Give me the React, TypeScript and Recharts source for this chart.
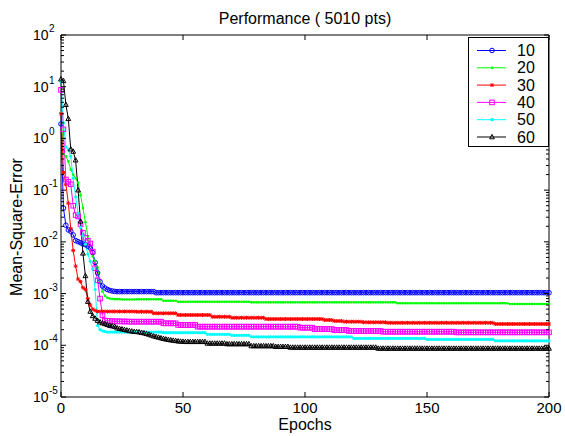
import React from "react";
import { LineChart, Line, XAxis, YAxis, Legend } from "recharts";

const FONT = '"Liberation Sans", Arial, Helvetica, sans-serif';

// plot box in page pixels (used for inward tick marks)
const PLOT = { left: 61, right: 549, top: 35, bottom: 397 };

const epochs = [
  0, 1, 2, 3, 4, 5, 6, 7, 8, 9, 10,
  11, 12, 13, 14, 15, 16, 17, 18, 19, 20,
  21, 22, 23, 24, 25, 26, 27, 28, 29, 30,
  31, 32, 33, 34, 35, 36, 37, 38, 39, 40,
  41, 42, 43, 44, 45, 46, 47, 48, 49, 50,
  51, 52, 53, 54, 55, 56, 57, 58, 59, 60,
  61, 62, 63, 64, 65, 66, 67, 68, 69, 70,
  71, 72, 73, 74, 75, 76, 77, 78, 79, 80,
  81, 82, 83, 84, 85, 86, 87, 88, 89, 90,
  91, 92, 93, 94, 95, 96, 97, 98, 99, 100,
  101, 102, 103, 104, 105, 106, 107, 108, 109, 110,
  111, 112, 113, 114, 115, 116, 117, 118, 119, 120,
  121, 122, 123, 124, 125, 126, 127, 128, 129, 130,
  131, 132, 133, 134, 135, 136, 137, 138, 139, 140,
  141, 142, 143, 144, 145, 146, 147, 148, 149, 150,
  151, 152, 153, 154, 155, 156, 157, 158, 159, 160,
  161, 162, 163, 164, 165, 166, 167, 168, 169, 170,
  171, 172, 173, 174, 175, 176, 177, 178, 179, 180,
  181, 182, 183, 184, 185, 186, 187, 188, 189, 190,
  191, 192, 193, 194, 195, 196, 197, 198, 199, 200,
];

const mse10 = [
  1.9, 0.045, 0.021, 0.017, 0.016, 0.0136, 0.0106, 0.0101, 0.0096, 0.0091, 0.0088,
  0.0083, 0.0076, 0.0062, 0.004, 0.0025, 0.0017, 0.0014, 0.00128, 0.0012, 0.00115,
  0.00112, 0.0011, 1.09e-3, 1.09e-3, 1.09e-3, 1.09e-3, 1.09e-3, 1.09e-3, 1.09e-3, 1.09e-3,
  1.09e-3, 1.09e-3, 1.09e-3, 1.09e-3, 1.09e-3, 1.09e-3, 1.09e-3, 1.09e-3, 1.04e-3, 1.04e-3,
  1.04e-3, 1.04e-3, 1.04e-3, 1.04e-3, 1.04e-3, 1.04e-3, 1.04e-3, 1.04e-3, 1.04e-3, 1.04e-3,
  1.04e-3, 1.04e-3, 1.04e-3, 1.04e-3, 1.04e-3, 1.04e-3, 1.04e-3, 1.04e-3, 1.04e-3, 1.04e-3,
  1.04e-3, 1.04e-3, 1.04e-3, 1.04e-3, 1.04e-3, 1.04e-3, 1.04e-3, 1.04e-3, 1.04e-3, 1.04e-3,
  1.04e-3, 1.04e-3, 1.04e-3, 1.04e-3, 1.04e-3, 1.04e-3, 1.04e-3, 1.04e-3, 1.04e-3, 1.04e-3,
  1.04e-3, 1.04e-3, 1.04e-3, 1.04e-3, 1.04e-3, 1.04e-3, 1.04e-3, 1.04e-3, 1.04e-3, 1.04e-3,
  1.04e-3, 1.04e-3, 1.04e-3, 1.04e-3, 1.04e-3, 1.04e-3, 1.04e-3, 1.04e-3, 1.04e-3, 1.04e-3,
  1.04e-3, 1.04e-3, 1.04e-3, 1.04e-3, 1.04e-3, 1.04e-3, 1.04e-3, 1.04e-3, 1.04e-3, 1.04e-3,
  1.04e-3, 1.04e-3, 1.04e-3, 1.04e-3, 1.04e-3, 1.04e-3, 1.04e-3, 1.04e-3, 1.04e-3, 1.04e-3,
  1.04e-3, 1.04e-3, 1.04e-3, 1.04e-3, 1.04e-3, 1.04e-3, 1.04e-3, 1.04e-3, 1.04e-3, 1.04e-3,
  1.04e-3, 1.04e-3, 1.04e-3, 1.04e-3, 1.04e-3, 1.04e-3, 1.04e-3, 1.04e-3, 1.04e-3, 1.04e-3,
  1.04e-3, 1.04e-3, 1.04e-3, 1.04e-3, 1.04e-3, 1.04e-3, 1.04e-3, 1.04e-3, 1.04e-3, 1.04e-3,
  1.04e-3, 1.04e-3, 1.04e-3, 1.04e-3, 1.04e-3, 1.04e-3, 1.04e-3, 1.04e-3, 1.04e-3, 1.04e-3,
  1.04e-3, 1.04e-3, 1.04e-3, 1.04e-3, 1.04e-3, 1.04e-3, 1.04e-3, 1.04e-3, 1.04e-3, 1.04e-3,
  1.04e-3, 1.04e-3, 1.04e-3, 1.04e-3, 1.04e-3, 1.04e-3, 1.04e-3, 1.04e-3, 1.04e-3, 1.04e-3,
  1.04e-3, 1.04e-3, 1.04e-3, 1.04e-3, 1.04e-3, 1.04e-3, 1.04e-3, 1.04e-3, 1.04e-3, 1.04e-3,
  1.04e-3, 1.04e-3, 1.04e-3, 1.04e-3, 1.04e-3, 1.04e-3, 1.04e-3, 1.04e-3, 1.04e-3, 1.04e-3,
];

const mse20 = [
  3.1, 0.5, 0.45, 0.36, 0.25, 0.2, 0.17, 0.14, 0.08, 0.045, 0.024,
  0.013, 0.0065, 0.0052, 0.0043, 0.0032, 0.0017, 0.0011, 0.0009, 0.00083, 0.0008,
  7.9e-4, 7.8e-4, 7.8e-4, 7.8e-4, 7.7e-4, 7.7e-4, 7.7e-4, 7.7e-4, 7.7e-4, 7.7e-4,
  7.74e-4, 7.74e-4, 7.74e-4, 7.74e-4, 7.74e-4, 7.74e-4, 7.74e-4, 7.74e-4, 7.74e-4, 7.74e-4,
  7.74e-4, 7.28e-4, 7.28e-4, 7.28e-4, 7.28e-4, 7.28e-4, 7.28e-4, 6.96e-4, 6.96e-4, 6.96e-4,
  6.96e-4, 6.96e-4, 6.96e-4, 6.96e-4, 6.96e-4, 6.96e-4, 6.96e-4, 6.96e-4, 6.96e-4, 6.96e-4,
  6.96e-4, 6.96e-4, 6.96e-4, 6.96e-4, 6.96e-4, 6.96e-4, 6.96e-4, 6.96e-4, 6.96e-4, 6.96e-4,
  6.96e-4, 6.96e-4, 6.96e-4, 6.96e-4, 6.96e-4, 6.96e-4, 6.96e-4, 6.77e-4, 6.77e-4, 6.77e-4,
  6.77e-4, 6.77e-4, 6.77e-4, 6.77e-4, 6.77e-4, 6.77e-4, 6.77e-4, 6.77e-4, 6.77e-4, 6.77e-4,
  6.77e-4, 6.77e-4, 6.77e-4, 6.77e-4, 6.77e-4, 6.77e-4, 6.77e-4, 6.77e-4, 6.77e-4, 6.77e-4,
  6.77e-4, 6.77e-4, 6.77e-4, 6.77e-4, 6.77e-4, 6.77e-4, 6.77e-4, 6.77e-4, 6.77e-4, 6.77e-4,
  6.77e-4, 6.77e-4, 6.77e-4, 6.77e-4, 6.77e-4, 6.77e-4, 6.77e-4, 6.77e-4, 6.77e-4, 6.77e-4,
  6.77e-4, 6.77e-4, 6.77e-4, 6.77e-4, 6.77e-4, 6.77e-4, 6.77e-4, 6.77e-4, 6.77e-4, 6.77e-4,
  6.77e-4, 6.77e-4, 6.77e-4, 6.77e-4, 6.77e-4, 6.77e-4, 6.77e-4, 6.48e-4, 6.48e-4, 6.48e-4,
  6.48e-4, 6.48e-4, 6.48e-4, 6.48e-4, 6.48e-4, 6.48e-4, 6.48e-4, 6.48e-4, 6.48e-4, 6.48e-4,
  6.48e-4, 6.48e-4, 6.48e-4, 6.48e-4, 6.48e-4, 6.48e-4, 6.48e-4, 6.48e-4, 6.48e-4, 6.48e-4,
  6.48e-4, 6.48e-4, 6.48e-4, 6.48e-4, 6.48e-4, 6.48e-4, 6.48e-4, 6.48e-4, 6.48e-4, 6.48e-4,
  6.48e-4, 6.48e-4, 6.48e-4, 6.48e-4, 6.48e-4, 6.48e-4, 6.48e-4, 6.48e-4, 6.48e-4, 6.48e-4,
  6.48e-4, 6.48e-4, 6.48e-4, 6.3e-4, 6.3e-4, 6.3e-4, 6.3e-4, 6.3e-4, 6.3e-4, 6.3e-4,
  6.3e-4, 6.3e-4, 6.3e-4, 6.3e-4, 6.3e-4, 6.3e-4, 6.3e-4, 6.3e-4, 6.3e-4, 6.3e-4,
];

const mse30 = [
  3.0, 0.22, 0.13, 0.056, 0.018, 0.0068, 0.0034, 0.0019, 0.0017, 0.0013, 0.0012,
  0.0008, 0.0006, 0.0005, 4.7e-4, 4.5e-4, 4.5e-4, 4.5e-4, 4.5e-4, 4.5e-4, 4.5e-4,
  4.5e-4, 4.5e-4, 4.5e-4, 4.5e-4, 4.5e-4, 4.5e-4, 4.5e-4, 4.5e-4, 4.5e-4, 4.5e-4,
  4.46e-4, 4.46e-4, 4.46e-4, 4.46e-4, 4.46e-4, 4.46e-4, 4.46e-4, 4.15e-4, 4.15e-4, 4.15e-4,
  4.15e-4, 4.15e-4, 4.15e-4, 4.15e-4, 4.15e-4, 4.15e-4, 4.15e-4, 3.85e-4, 3.85e-4, 3.85e-4,
  3.85e-4, 3.85e-4, 3.85e-4, 3.85e-4, 3.85e-4, 3.85e-4, 3.85e-4, 3.85e-4, 3.85e-4, 3.85e-4,
  3.85e-4, 3.56e-4, 3.56e-4, 3.56e-4, 3.56e-4, 3.56e-4, 3.56e-4, 3.56e-4, 3.56e-4, 3.41e-4,
  3.41e-4, 3.41e-4, 3.41e-4, 3.41e-4, 3.41e-4, 3.41e-4, 3.41e-4, 3.41e-4, 3.41e-4, 3.41e-4,
  3.41e-4, 3.41e-4, 3.41e-4, 3.22e-4, 3.22e-4, 3.22e-4, 3.22e-4, 3.22e-4, 3.22e-4, 3.22e-4,
  3.22e-4, 3.22e-4, 3.22e-4, 3.22e-4, 3.22e-4, 3.22e-4, 3.22e-4, 3.22e-4, 3.22e-4, 3.22e-4,
  3.22e-4, 3.22e-4, 3.22e-4, 3.22e-4, 3.22e-4, 3.22e-4, 3.22e-4, 3.08e-4, 3.08e-4, 3.08e-4,
  3.08e-4, 2.95e-4, 2.95e-4, 2.95e-4, 2.95e-4, 2.86e-4, 2.86e-4, 2.86e-4, 2.86e-4, 2.86e-4,
  2.86e-4, 2.86e-4, 2.86e-4, 2.78e-4, 2.78e-4, 2.78e-4, 2.78e-4, 2.78e-4, 2.78e-4, 2.78e-4,
  2.78e-4, 2.78e-4, 2.78e-4, 2.72e-4, 2.72e-4, 2.72e-4, 2.72e-4, 2.72e-4, 2.72e-4, 2.72e-4,
  2.72e-4, 2.72e-4, 2.72e-4, 2.72e-4, 2.72e-4, 2.72e-4, 2.72e-4, 2.72e-4, 2.72e-4, 2.72e-4,
  2.72e-4, 2.72e-4, 2.72e-4, 2.72e-4, 2.72e-4, 2.72e-4, 2.72e-4, 2.72e-4, 2.72e-4, 2.72e-4,
  2.72e-4, 2.72e-4, 2.72e-4, 2.72e-4, 2.72e-4, 2.72e-4, 2.72e-4, 2.72e-4, 2.72e-4, 2.72e-4,
  2.72e-4, 2.72e-4, 2.72e-4, 2.72e-4, 2.72e-4, 2.72e-4, 2.72e-4, 2.58e-4, 2.58e-4, 2.58e-4,
  2.58e-4, 2.58e-4, 2.58e-4, 2.58e-4, 2.58e-4, 2.58e-4, 2.58e-4, 2.58e-4, 2.58e-4, 2.58e-4,
  2.58e-4, 2.58e-4, 2.58e-4, 2.58e-4, 2.58e-4, 2.58e-4, 2.58e-4, 2.58e-4, 2.58e-4, 2.58e-4,
];

const mse40 = [
  8.7, 1.5, 0.16, 0.145, 0.13, 0.05, 0.033, 0.031, 0.022, 0.015, 0.012,
  0.0105, 0.0093, 0.0065, 0.0031, 0.0018, 0.0008, 3.8e-4, 3.0e-4, 2.98e-4, 2.95e-4,
  2.93e-4, 2.9e-4, 2.9e-4, 2.9e-4, 2.9e-4, 2.88e-4, 2.88e-4, 2.87e-4, 2.86e-4, 2.86e-4,
  2.86e-4, 2.86e-4, 2.86e-4, 2.86e-4, 2.86e-4, 2.86e-4, 2.86e-4, 2.86e-4, 2.86e-4, 2.86e-4,
  2.86e-4, 2.66e-4, 2.66e-4, 2.66e-4, 2.66e-4, 2.66e-4, 2.66e-4, 2.47e-4, 2.47e-4, 2.47e-4,
  2.47e-4, 2.47e-4, 2.47e-4, 2.47e-4, 2.47e-4, 2.29e-4, 2.29e-4, 2.29e-4, 2.29e-4, 2.29e-4,
  2.29e-4, 2.29e-4, 2.29e-4, 2.29e-4, 2.29e-4, 2.29e-4, 2.29e-4, 2.29e-4, 2.29e-4, 2.29e-4,
  2.29e-4, 2.29e-4, 2.29e-4, 2.29e-4, 2.29e-4, 2.29e-4, 2.29e-4, 2.29e-4, 2.29e-4, 2.29e-4,
  2.29e-4, 2.29e-4, 2.29e-4, 2.29e-4, 2.29e-4, 2.29e-4, 2.29e-4, 2.29e-4, 2.29e-4, 2.29e-4,
  2.29e-4, 2.29e-4, 2.29e-4, 2.29e-4, 2.29e-4, 2.29e-4, 2.29e-4, 2.19e-4, 2.19e-4, 2.19e-4,
  2.19e-4, 2.19e-4, 2.19e-4, 2.06e-4, 2.06e-4, 2.06e-4, 2.06e-4, 2.06e-4, 2.06e-4, 2.06e-4,
  2.06e-4, 1.97e-4, 1.97e-4, 1.97e-4, 1.97e-4, 1.97e-4, 1.97e-4, 1.89e-4, 1.89e-4, 1.89e-4,
  1.89e-4, 1.89e-4, 1.89e-4, 1.89e-4, 1.89e-4, 1.89e-4, 1.89e-4, 1.89e-4, 1.89e-4, 1.89e-4,
  1.89e-4, 1.83e-4, 1.83e-4, 1.83e-4, 1.83e-4, 1.83e-4, 1.83e-4, 1.83e-4, 1.83e-4, 1.83e-4,
  1.83e-4, 1.83e-4, 1.83e-4, 1.83e-4, 1.83e-4, 1.83e-4, 1.83e-4, 1.83e-4, 1.83e-4, 1.83e-4,
  1.83e-4, 1.83e-4, 1.83e-4, 1.83e-4, 1.83e-4, 1.83e-4, 1.83e-4, 1.83e-4, 1.83e-4, 1.83e-4,
  1.83e-4, 1.78e-4, 1.78e-4, 1.78e-4, 1.78e-4, 1.78e-4, 1.78e-4, 1.78e-4, 1.78e-4, 1.78e-4,
  1.78e-4, 1.78e-4, 1.78e-4, 1.78e-4, 1.78e-4, 1.78e-4, 1.78e-4, 1.78e-4, 1.78e-4, 1.78e-4,
  1.78e-4, 1.78e-4, 1.78e-4, 1.78e-4, 1.78e-4, 1.78e-4, 1.78e-4, 1.78e-4, 1.78e-4, 1.78e-4,
  1.78e-4, 1.78e-4, 1.78e-4, 1.78e-4, 1.78e-4, 1.78e-4, 1.78e-4, 1.78e-4, 1.78e-4, 1.78e-4,
];

const mse50 = [
  12.5, 2.0, 0.68, 0.6, 0.45, 0.17, 0.074, 0.036, 0.019, 0.013, 0.009,
  0.0058, 0.0042, 0.003, 0.0012, 2.4e-4, 2.0e-4, 1.9e-4, 1.85e-4, 1.8e-4, 1.8e-4,
  1.8e-4, 1.8e-4, 1.8e-4, 1.8e-4, 1.8e-4, 1.8e-4, 1.8e-4, 1.8e-4, 1.8e-4, 1.8e-4,
  1.8e-4, 1.8e-4, 1.8e-4, 1.8e-4, 1.8e-4, 1.8e-4, 1.8e-4, 1.8e-4, 1.8e-4, 1.8e-4,
  1.8e-4, 1.75e-4, 1.75e-4, 1.75e-4, 1.75e-4, 1.75e-4, 1.75e-4, 1.75e-4, 1.75e-4, 1.75e-4,
  1.75e-4, 1.75e-4, 1.75e-4, 1.75e-4, 1.75e-4, 1.75e-4, 1.75e-4, 1.75e-4, 1.75e-4, 1.63e-4,
  1.63e-4, 1.63e-4, 1.63e-4, 1.63e-4, 1.63e-4, 1.63e-4, 1.63e-4, 1.63e-4, 1.63e-4, 1.56e-4,
  1.56e-4, 1.56e-4, 1.56e-4, 1.56e-4, 1.56e-4, 1.56e-4, 1.56e-4, 1.46e-4, 1.46e-4, 1.46e-4,
  1.46e-4, 1.46e-4, 1.46e-4, 1.46e-4, 1.46e-4, 1.46e-4, 1.46e-4, 1.46e-4, 1.46e-4, 1.46e-4,
  1.46e-4, 1.46e-4, 1.46e-4, 1.46e-4, 1.46e-4, 1.46e-4, 1.46e-4, 1.46e-4, 1.46e-4, 1.46e-4,
  1.46e-4, 1.46e-4, 1.46e-4, 1.46e-4, 1.46e-4, 1.46e-4, 1.46e-4, 1.46e-4, 1.46e-4, 1.46e-4,
  1.46e-4, 1.46e-4, 1.46e-4, 1.46e-4, 1.46e-4, 1.46e-4, 1.46e-4, 1.46e-4, 1.46e-4, 1.36e-4,
  1.36e-4, 1.36e-4, 1.36e-4, 1.36e-4, 1.36e-4, 1.36e-4, 1.36e-4, 1.36e-4, 1.36e-4, 1.36e-4,
  1.36e-4, 1.36e-4, 1.36e-4, 1.36e-4, 1.36e-4, 1.36e-4, 1.36e-4, 1.36e-4, 1.36e-4, 1.36e-4,
  1.36e-4, 1.36e-4, 1.36e-4, 1.36e-4, 1.36e-4, 1.36e-4, 1.36e-4, 1.36e-4, 1.36e-4, 1.3e-4,
  1.3e-4, 1.3e-4, 1.3e-4, 1.3e-4, 1.3e-4, 1.3e-4, 1.3e-4, 1.3e-4, 1.3e-4, 1.3e-4,
  1.3e-4, 1.3e-4, 1.3e-4, 1.3e-4, 1.3e-4, 1.3e-4, 1.3e-4, 1.3e-4, 1.3e-4, 1.3e-4,
  1.3e-4, 1.3e-4, 1.3e-4, 1.3e-4, 1.3e-4, 1.3e-4, 1.3e-4, 1.22e-4, 1.22e-4, 1.22e-4,
  1.22e-4, 1.22e-4, 1.22e-4, 1.22e-4, 1.22e-4, 1.22e-4, 1.22e-4, 1.22e-4, 1.22e-4, 1.22e-4,
  1.22e-4, 1.22e-4, 1.22e-4, 1.22e-4, 1.22e-4, 1.22e-4, 1.22e-4, 1.22e-4, 1.22e-4, 1.22e-4,
];

const mse60 = [
  14, 13, 4.5, 2.4, 0.62, 0.56, 0.38, 0.1, 0.025, 0.006, 0.0022,
  7e-4, 4.5e-4, 3.7e-4, 3.3e-4, 3.0e-4, 2.8e-4, 2.7e-4, 2.6e-4, 2.5e-4, 2.4e-4,
  2.35e-4, 2.3e-4, 2.15e-4, 2.1e-4, 2.05e-4, 2.0e-4, 1.95e-4, 1.9e-4, 1.87e-4, 1.83e-4,
  1.82e-4, 1.8e-4, 1.76e-4, 1.72e-4, 1.67e-4, 1.62e-4, 1.56e-4, 1.5e-4, 1.46e-4, 1.42e-4,
  1.38e-4, 1.34e-4, 1.31e-4, 1.28e-4, 1.26e-4, 1.24e-4, 1.22e-4, 1.2e-4, 1.19e-4, 1.18e-4,
  1.17e-4, 1.17e-4, 1.17e-4, 1.17e-4, 1.17e-4, 1.17e-4, 1.17e-4, 1.17e-4, 1.17e-4, 1.09e-4,
  1.09e-4, 1.09e-4, 1.09e-4, 1.09e-4, 1.09e-4, 1.09e-4, 1.09e-4, 1.06e-4, 1.06e-4, 1.06e-4,
  1.06e-4, 1.06e-4, 1.06e-4, 1.06e-4, 1.06e-4, 1.06e-4, 1.06e-4, 9.7e-5, 9.7e-5, 9.7e-5,
  9.7e-5, 9.7e-5, 9.7e-5, 9.7e-5, 9.7e-5, 9.7e-5, 9.7e-5, 9.4e-5, 9.4e-5, 9.4e-5,
  9.4e-5, 9.4e-5, 9.4e-5, 9.1e-5, 9.1e-5, 9.1e-5, 9.1e-5, 9.1e-5, 9.1e-5, 9.1e-5,
  9.1e-5, 9.1e-5, 9.1e-5, 9.1e-5, 9.1e-5, 9.1e-5, 9.1e-5, 9.1e-5, 9.1e-5, 9.1e-5,
  9.1e-5, 9.1e-5, 9.1e-5, 9.1e-5, 9.1e-5, 9.1e-5, 9.1e-5, 9.1e-5, 9.1e-5, 9.1e-5,
  9.1e-5, 9.1e-5, 9.1e-5, 9.1e-5, 9.1e-5, 9.1e-5, 9.1e-5, 9.1e-5, 9.1e-5, 8.7e-5,
  8.7e-5, 8.7e-5, 8.7e-5, 8.7e-5, 8.7e-5, 8.7e-5, 8.7e-5, 8.7e-5, 8.7e-5, 8.7e-5,
  8.7e-5, 8.7e-5, 8.7e-5, 8.7e-5, 8.7e-5, 8.7e-5, 8.7e-5, 8.7e-5, 8.7e-5, 8.7e-5,
  8.7e-5, 8.7e-5, 8.7e-5, 8.7e-5, 8.7e-5, 8.7e-5, 8.7e-5, 8.7e-5, 8.7e-5, 8.7e-5,
  8.7e-5, 8.7e-5, 8.7e-5, 8.7e-5, 8.7e-5, 8.7e-5, 8.7e-5, 8.7e-5, 8.7e-5, 8.7e-5,
  8.7e-5, 8.7e-5, 8.7e-5, 8.7e-5, 8.7e-5, 8.7e-5, 8.7e-5, 8.7e-5, 8.7e-5, 8.7e-5,
  8.7e-5, 8.7e-5, 8.7e-5, 8.7e-5, 8.7e-5, 8.7e-5, 8.7e-5, 8.7e-5, 8.7e-5, 8.7e-5,
  8.7e-5, 8.7e-5, 8.7e-5, 8.7e-5, 8.7e-5, 8.7e-5, 8.7e-5, 8.7e-5, 8.7e-5, 8.7e-5,
];

const seriesNames = ["10", "20", "30", "40", "50", "60"];
const seriesColors = ["#0000ff", "#00ff00", "#ff0000", "#ff00ff", "#00ffff", "#000000"];
const seriesMarkers = ["o", ".", "*", "s", "..", "^"];
const seriesValues = [mse10, mse20, mse30, mse40, mse50, mse60];

const xTicks = [0, 50, 100, 150, 200];
const yDecades = [1e-5, 1e-4, 1e-3, 1e-2, 1e-1, 1, 10, 100];
const yTicks = yDecades
  .slice(0, -1)
  .flatMap((d) => [1, 2, 3, 4, 5, 6, 7, 8, 9].map((m) => m * d))
  .concat([100]);

const rows = epochs.map((epoch, i) => {
  const row: Record<string, number> = { epoch };
  seriesNames.forEach((n, k) => (row["s" + n] = seriesValues[k][i]));
  return row;
});

function Marker({ kind, color, cx, cy }: any) {
  if (cx == null || cy == null) return null;
  switch (kind) {
    case "o":
      return <circle cx={cx} cy={cy} r={2.3} fill="none" stroke={color} strokeWidth={1} />;
    case ".":
      return <circle cx={cx} cy={cy} r={1.3} fill={color} />;
    case "..":
      return <circle cx={cx} cy={cy} r={1.6} fill={color} />;
    case "*":
      return (
        <g stroke={color} strokeWidth={1}>
          <line x1={cx - 2} x2={cx + 2} y1={cy} y2={cy} />
          <line x1={cx} x2={cx} y1={cy - 2} y2={cy + 2} />
          <line x1={cx - 1.5} x2={cx + 1.5} y1={cy - 1.5} y2={cy + 1.5} />
          <line x1={cx - 1.5} x2={cx + 1.5} y1={cy + 1.5} y2={cy - 1.5} />
        </g>
      );
    case "s":
      return <rect x={cx - 2.3} y={cy - 2.3} width={4.6} height={4.6} fill="none" stroke={color} strokeWidth={1} />;
    case "^":
      return (
        <path
          d={`M${cx},${cy - 2.6}L${cx + 2.4},${cy + 1.8}L${cx - 2.4},${cy + 1.8}Z`}
          fill="none"
          stroke={color}
          strokeWidth={1}
        />
      );
    default:
      return null;
  }
}

const dotFor = (kind: string, color: string) => (p: any) =>
  <Marker key={`${kind}-${color}-${p.index}`} kind={kind} color={color} cx={p.cx} cy={p.cy} />;

function XTick({ x, payload, side }: any) {
  if (side === "top") {
    return <line x1={x} x2={x} y1={PLOT.top} y2={PLOT.top + 5} stroke="#000" />;
  }
  return (
    <g>
      <line x1={x} x2={x} y1={PLOT.bottom} y2={PLOT.bottom - 5} stroke="#000" />
      <text x={x} y={413} textAnchor="middle" fontSize={15} fontFamily={FONT} fill="#000">
        {Math.round(payload.value)}
      </text>
    </g>
  );
}

function YTick({ y, payload, side }: any) {
  const lg = Math.log10(payload.value);
  const exp = Math.round(lg);
  const major = Math.abs(lg - exp) < 1e-6;
  const len = major ? 5 : 3;
  if (side === "right") {
    return <line x1={PLOT.right} x2={PLOT.right - len} y1={y} y2={y} stroke="#000" />;
  }
  return (
    <g>
      <line x1={PLOT.left} x2={PLOT.left + len} y1={y} y2={y} stroke="#000" />
      {major && (
        <text x={33} y={y + 5} fontSize={14} fontFamily={FONT} fill="#000">
          10
          <tspan x={49} dy={-8} fontSize={10}>
            {exp}
          </tspan>
        </text>
      )}
    </g>
  );
}

const TitleLabel = () => (
  <text x={305} y={24} textAnchor="middle" fontSize={16} fontFamily={FONT} fill="#000">
    Performance ( 5010 pts)
  </text>
);

const XLabel = () => (
  <text x={305} y={430} textAnchor="middle" fontSize={16} fontFamily={FONT} fill="#000">
    Epochs
  </text>
);

const YLabel = () => (
  <text
    x={22}
    y={227}
    transform="rotate(-90, 22, 227)"
    textAnchor="middle"
    fontSize={16}
    fontFamily={FONT}
    fill="#000"
  >
    Mean-Square-Error
  </text>
);

const LegendBox = () => (
  <div style={{ width: 81, height: 110, border: "1px solid #000", background: "#fff", boxSizing: "border-box" }}>
    <svg width={79} height={108} style={{ display: "block" }}>
      {seriesNames.map((n, i) => {
        const y = 12.5 + i * 17.3;
        return (
          <g key={n}>
            <line x1={8} x2={37} y1={y} y2={y} stroke={seriesColors[i]} strokeWidth={1} />
            <Marker kind={seriesMarkers[i]} color={seriesColors[i]} cx={23} cy={y} />
            <text x={48} y={y + 5.5} fontSize={16} fontFamily={FONT} fill="#000">
              {n}
            </text>
          </g>
        );
      })}
    </svg>
  </div>
);

export default function App() {
  return (
    <div style={{ position: "absolute", left: 0, top: 0, width: 565, height: 436, background: "#fff" }}>
      <LineChart width={565} height={436} data={rows} margin={{ top: 0, right: 0, bottom: 0, left: 0 }}>
        <XAxis
          xAxisId="top"
          orientation="top"
          dataKey="epoch"
          type="number"
          domain={[0, 200]}
          ticks={xTicks}
          interval={0}
          height={35}
          axisLine={{ stroke: "#000" }}
          tickLine={false}
          tick={<XTick side="top" />}
          label={<TitleLabel />}
        />
        <XAxis
          dataKey="epoch"
          type="number"
          domain={[0, 200]}
          ticks={xTicks}
          interval={0}
          height={39}
          axisLine={{ stroke: "#000" }}
          tickLine={false}
          tick={<XTick side="bottom" />}
          label={<XLabel />}
        />
        <YAxis
          type="number"
          scale="log"
          domain={[1e-5, 100]}
          allowDataOverflow
          ticks={yTicks}
          interval={0}
          width={61}
          axisLine={{ stroke: "#000" }}
          tickLine={false}
          tick={<YTick side="left" />}
          label={<YLabel />}
        />
        <YAxis
          yAxisId="right"
          orientation="right"
          type="number"
          scale="log"
          domain={[1e-5, 100]}
          allowDataOverflow
          ticks={yTicks}
          interval={0}
          width={16}
          axisLine={{ stroke: "#000" }}
          tickLine={false}
          tick={<YTick side="right" />}
        />
        <Legend
          layout="vertical"
          align="center"
          verticalAlign="middle"
          wrapperStyle={{ position: "absolute", left: 468, top: 37, width: 81, height: 110 }}
          content={() => <LegendBox />}
        />
        {seriesNames.map((n, i) => (
          <Line
            key={n}
            type="linear"
            dataKey={"s" + n}
            name={n}
            stroke={seriesColors[i]}
            strokeWidth={1}
            dot={dotFor(seriesMarkers[i], seriesColors[i])}
            activeDot={false}
            isAnimationActive={false}
          />
        ))}
      </LineChart>
    </div>
  );
}
